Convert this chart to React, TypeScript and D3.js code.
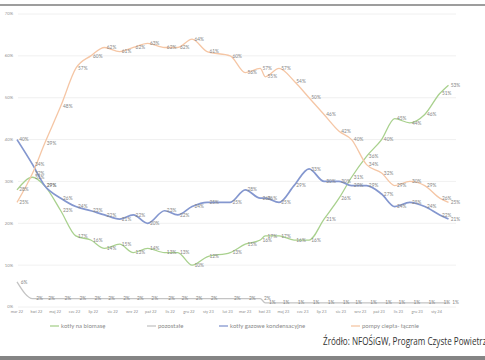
import React from 'react';
import * as d3 from 'd3';

// dates of the points (date axis, labels every month)
const dates = [
  '2022-03-01', '2022-03-26', '2022-04-14', '2022-05-10', '2022-06-03', '2022-06-27',
  '2022-07-19', '2022-08-12', '2022-09-03', '2022-09-26', '2022-10-23', '2022-11-13',
  '2022-12-06', '2022-12-30', '2023-02-05', '2023-03-01', '2023-03-25', '2023-04-02',
  '2023-04-24', '2023-05-18', '2023-06-11', '2023-07-05', '2023-07-29', '2023-08-18',
  '2023-09-11', '2023-10-05', '2023-10-26', '2023-11-19', '2023-12-13', '2024-01-06',
  '2024-01-20',
];

// shares in %
const biomasa = [28, 31, 29, 23, 17, 16, 14, 15, 13, 14, 13, 13, 10, 12, 13, 15, 16, 17, 17, 16, 16, 21, 26, 31, 36, 40, 45, 44, 46, 51, 53];
const pozostale = [6, 2, 2, 2, 2, 2, 2, 2, 2, 2, 2, 2, 2, 2, 2, 2, 2, 1, 1, 1, 1, 1, 1, 1, 1, 1, 1, 1, 1, 1, 1];
const gazowe = [40, 34, 29, 26, 24, 23, 22, 21, 22, 20, 23, 22, 24, 25, 25, 28, 26, 26, 25, 29, 33, 30, 30, 29, 29, 27, 24, 25, 24, 22, 21];
const pompy = [25, 32, 39, 48, 57, 60, 62, 61, 62, 63, 62, 62, 64, 61, 60, 56, 57, 55, 57, 54, 50, 46, 42, 40, 34, 32, 29, 30, 29, 26, 25];

const seriesNames = ['kotły na biomasę', 'pozostałe', 'kotły gazowe kondensacyjne', 'pompy ciepła- łącznie'];
const seriesColors = ['#a9d18e', '#c4c4c4', '#8497cf', '#f5c6a5'];

const yTicks = [0, 10, 20, 30, 40, 50, 60, 70];
const monthLabels = [
  'mar 22', 'kwi 22', 'maj 22', 'cze 22', 'lip 22', 'sie 22', 'wrz 22', 'paź 22',
  'lis 22', 'gru 22', 'sty 23', 'lut 23', 'mar 23', 'kwi 23', 'maj 23', 'cze 23',
  'lip 23', 'sie 23', 'wrz 23', 'paź 23', 'lis 23', 'gru 23', 'sty 24',
];
const sourceText = 'Źródło: NFOŚiGW, Program Czyste Powietrze';

const W = 485;
const H = 360;
const plot = { left: 17, right: 456, top: 14, bottom: 307 };
const legendX = [50, 147, 219, 351];
const smallFont = 'Lato, "Open Sans", sans-serif';

export default function App() {
  const parse = d3.timeParse('%Y-%m-%d');
  const xDates = dates.map((d) => parse(d) as Date);
  const start = new Date(2022, 2, 1);
  const end = new Date(2024, 1, 1);

  const x = d3.scaleTime().domain([start, end]).range([plot.left, plot.right]);
  const y = d3.scaleLinear().domain([0, 70]).range([plot.bottom, plot.top]);
  const tickDates = d3.timeMonth.range(start, end).slice(0, monthLabels.length);

  const series = [biomasa, pozostale, gazowe, pompy];

  const line = d3.line<number>()
    .x((_, i) => x(xDates[i]))
    .y((d) => y(d))
    .curve(d3.curveMonotoneX);

  return (
    <div style={{ position: 'fixed', left: 0, top: 0 }}>
      <svg width={W} height={H} style={{ display: 'block', background: '#fff' }}>
        {/* frame lines from the screenshot */}
        <line x1={0} x2={W} y1={5} y2={5} stroke="#7c7c7c" strokeWidth={1.5} />
        <rect x={0} y={356} width={W} height={4} fill="#858585" />

        {/* gridlines + y labels */}
        {yTicks.map((t) => (
          <g key={t}>
            <line x1={plot.left + 1} x2={plot.right} y1={y(t)} y2={y(t)} stroke="#ececec" strokeWidth={0.8} />
            <text x={13} y={y(t)} dy="0.35em" textAnchor="end" fontSize={4.2} fill="#8f8f8f" fontFamily={smallFont}>
              {t}%
            </text>
          </g>
        ))}

        {/* x labels */}
        {tickDates.map((d, i) => (
          <text key={i} x={x(d)} y={312} dy="0.35em" textAnchor="middle" fontSize={4} fill="#8f8f8f" fontFamily={smallFont}>
            {monthLabels[i]}
          </text>
        ))}

        {/* lines */}
        {series.map((s, k) => (
          <path key={k} d={line(s) || ''} fill="none" stroke={seriesColors[k]}
            strokeWidth={k === 2 ? 1.7 : 1.3} strokeLinejoin="round" />
        ))}

        {/* data labels */}
        {series.map((s, k) => (
          <g key={k}>
            {s.map((v, i) => (
              <text key={i} x={x(xDates[i]) + 7} y={y(v)} dy="0.35em" textAnchor="middle"
                fontSize={4.8} fill="#858585" fontFamily={smallFont}>
                {v}%
              </text>
            ))}
          </g>
        ))}

        {/* legend */}
        {seriesNames.map((name, k) => (
          <g key={name} transform={`translate(${legendX[k]},326)`}>
            <line x1={0} x2={9} y1={0} y2={0} stroke={seriesColors[k]} strokeWidth={1.3} />
            <text x={11} y={0} dy="0.35em" fontSize={6} fill="#8a8a8a" fontFamily={smallFont}>
              {name}
            </text>
          </g>
        ))}

        <text x={323} y={345} fontSize={10} fill="#333" fontFamily='"Open Sans", sans-serif'
          textLength={168} lengthAdjust="spacingAndGlyphs">
          {sourceText}
        </text>
      </svg>
    </div>
  );
}
